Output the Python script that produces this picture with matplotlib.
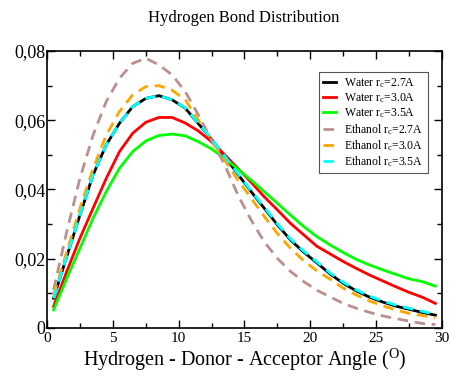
import matplotlib
matplotlib.use('Agg')
import matplotlib.pyplot as plt
from matplotlib.ticker import MultipleLocator, FuncFormatter

plt.rcParams['font.family'] = ['Liberation Serif', 'DejaVu Serif']
plt.rcParams['mathtext.fontset'] = 'custom'
plt.rcParams['mathtext.rm'] = 'Liberation Serif'
plt.rcParams['mathtext.it'] = 'Liberation Serif'

# angle bins (degrees)
angle = [0.5, 1.5, 2.5, 3.5, 4.5, 5.5, 6.5, 7.5, 8.5, 9.5,
         10.5, 11.5, 12.5, 13.5, 14.5, 15.5, 16.5, 17.5, 18.5, 19.5,
         20.5, 21.5, 22.5, 23.5, 24.5, 25.5, 26.5, 27.5, 28.5, 29.5]

water_27 = [0.0086, 0.0206, 0.0326, 0.0442, 0.0529, 0.0591, 0.0639, 0.0663, 0.0671, 0.0659,
            0.0635, 0.0590, 0.0545, 0.0495, 0.0444, 0.0394, 0.0346, 0.0298, 0.0254, 0.0219,
            0.0188, 0.0156, 0.0129, 0.0107, 0.0089, 0.0075, 0.0063, 0.0054, 0.0045, 0.0037]
water_30 = [0.0062, 0.0163, 0.0259, 0.0346, 0.0432, 0.0509, 0.0562, 0.0594, 0.0608, 0.0608,
            0.0592, 0.0569, 0.0538, 0.0500, 0.0461, 0.0421, 0.0379, 0.0341, 0.0302, 0.0269,
            0.0236, 0.0214, 0.0192, 0.0172, 0.0153, 0.0136, 0.0119, 0.0103, 0.0089, 0.0071]
water_35 = [0.0052, 0.0143, 0.0230, 0.0317, 0.0394, 0.0461, 0.0509, 0.0540, 0.0556, 0.0560,
            0.0555, 0.0538, 0.0517, 0.0490, 0.0459, 0.0427, 0.0394, 0.0360, 0.0326, 0.0293,
            0.0264, 0.0240, 0.0218, 0.0198, 0.0182, 0.0168, 0.0155, 0.0142, 0.0134, 0.0121]
ethanol_27 = [0.0110, 0.0278, 0.0432, 0.0557, 0.0654, 0.0721, 0.0764, 0.0779, 0.0760, 0.0731,
              0.0683, 0.0615, 0.0543, 0.0471, 0.0384, 0.0312, 0.0249, 0.0201, 0.0163, 0.0134,
              0.0109, 0.0090, 0.0071, 0.0057, 0.0045, 0.0035, 0.0027, 0.0020, 0.0013, 0.0010]
ethanol_30 = [0.0095, 0.0220, 0.0346, 0.0460, 0.0557, 0.0625, 0.0673, 0.0697, 0.0700, 0.0687,
              0.0659, 0.0600, 0.0543, 0.0485, 0.0427, 0.0375, 0.0322, 0.0273, 0.0230, 0.0194,
              0.0165, 0.0141, 0.0115, 0.0095, 0.0078, 0.0064, 0.0052, 0.0042, 0.0036, 0.0030]
ethanol_35 = [0.0086, 0.0206, 0.0326, 0.0442, 0.0529, 0.0591, 0.0639, 0.0663, 0.0671, 0.0659,
              0.0636, 0.0591, 0.0546, 0.0496, 0.0446, 0.0396, 0.0349, 0.0301, 0.0257, 0.0222,
              0.0191, 0.0159, 0.0132, 0.0110, 0.0092, 0.0078, 0.0066, 0.0057, 0.0048, 0.0040]

fig = plt.figure(figsize=(4.51, 3.76), dpi=100)
ax = fig.add_axes([0.1042, 0.1277, 0.8758, 0.7367])

dash = (0, (3.8, 2.4))
ax.plot(angle, water_27, color='black', lw=2, label='Water r$_c$=2.7A')
ax.plot(angle, water_30, color='red', lw=2, label='Water r$_c$=3.0A')
ax.plot(angle, water_35, color='#00ff00', lw=2, label='Water r$_c$=3.5A')
ax.plot(angle, ethanol_27, color='#bc8f8f', lw=2, ls=dash, label='Ethanol r$_c$=2.7A')
ax.plot(angle, ethanol_30, color='orange', lw=2, ls=dash, label='Ethanol r$_c$=3.0A')
ax.plot(angle, ethanol_35, color='cyan', lw=2, ls=dash, label='Ethanol r$_c$=3.5A')

ax.set_xlim(0, 30)
ax.set_ylim(0, 0.08)
ax.xaxis.set_major_locator(MultipleLocator(5))
ax.xaxis.set_minor_locator(MultipleLocator(2.5))
ax.yaxis.set_major_locator(MultipleLocator(0.02))
ax.yaxis.set_minor_locator(MultipleLocator(0.01))
ax.yaxis.set_major_formatter(FuncFormatter(
    lambda v, p: '0' if abs(v) < 1e-9 else f'{v:.2f}'.replace('.', ',')))
ax.tick_params(which='both', direction='in', top=True, right=True, width=1)
ax.tick_params(which='major', length=6)
ax.tick_params(which='minor', length=3.5)
ax.tick_params(axis='x', labelsize=11, pad=3)
ax.tick_params(axis='y', labelsize=13, pad=1)
for s in ax.spines.values():
    s.set_linewidth(1.2)

ax.set_xlabel('Hydrogen - Donor - Acceptor Angle ($^{\\mathrm{O}}$)', fontsize=14.5, labelpad=1)
fig.text(0.54, 0.952, 'Hydrogen Bond Distribution', ha='center', va='center', fontsize=12)

leg = ax.legend(loc='upper right', bbox_to_anchor=(0.973, 0.937), fontsize=8.5,
                handlelength=1.1, handletextpad=0.7, labelspacing=0.12,
                borderpad=0.35, borderaxespad=0.3, fancybox=False, framealpha=1)
leg.get_frame().set_edgecolor('#555555')
leg.get_frame().set_linewidth(0.8)

fig.savefig('out.png', dpi=100)
